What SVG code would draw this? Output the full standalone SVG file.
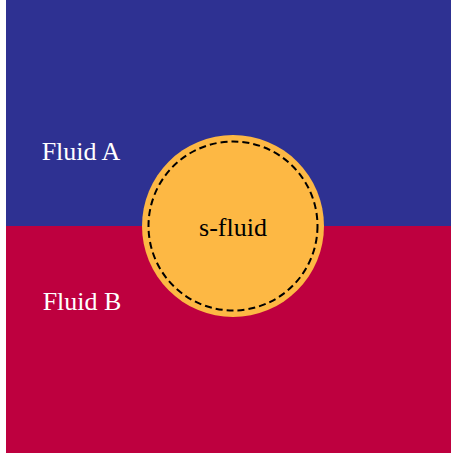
<svg xmlns="http://www.w3.org/2000/svg" width="451" height="457" viewBox="0 0 451 457">
<style>
.lbl{font-family:"Liberation Serif","DejaVu Serif",serif;font-size:26px;text-anchor:middle}
</style>
<rect width="451" height="457" fill="#ffffff"/>
<g id="fluidA"><rect x="6" y="0" width="445" height="226" fill="#2E3192"/><text class="lbl" x="81" y="160" fill="#ffffff">Fluid A</text></g>
<g id="fluidB"><rect x="6" y="226" width="445" height="227" fill="#BE003F"/><text class="lbl" x="82" y="310" fill="#ffffff">Fluid B</text></g>
<g id="sfluid">
<circle cx="233" cy="226" r="91" fill="#FDB844"/>
<circle cx="233" cy="226" r="84.5" fill="none" stroke="#000" stroke-width="2" stroke-dasharray="7,4"/>
<text class="lbl" x="233" y="236" fill="#000">s-fluid</text>
</g>
</svg>
